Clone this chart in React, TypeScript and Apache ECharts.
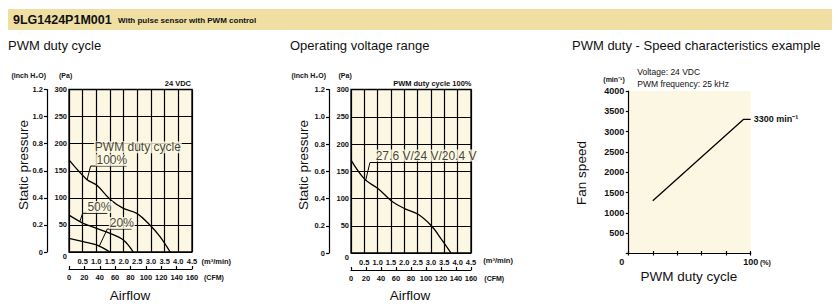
import React, { useEffect, useRef } from "react";
import * as echarts from "echarts";

// ---------- data ----------
// Airflow (m³/min) vs static pressure (Pa), PWM duty cycle curves
const pwm100 = [[0, 170], [0.65, 134], [1.01, 123.5], [1.53, 96], [1.99, 80.6], [2.48, 71.4], [2.96, 49.8], [3.33, 28.2], [3.7, 0]];
const pwm50 = [[0, 68], [0.52, 53], [1.01, 43.7], [1.5, 34.5], [1.99, 22], [2.35, 0]];
const pwm20 = [[0, 25], [0.52, 19], [1.01, 13], [1.5, 0]];
// Operating voltage range (27.6 V / 24 V / 20.4 V coincide)
const voltCurve = [[0, 170.5], [0.52, 135], [1.02, 118], [1.53, 95], [2.03, 81], [2.53, 70.5], [3.03, 49], [3.4, 24.5], [3.75, 0]];
// PWM duty (%) vs fan speed (min⁻¹)
const speedCurve = [[20, 1300], [94, 3300], [100, 3300]];

// leader lines (data coordinates)
const lead100 = [[0.66, 133], [0.79, 158.6], [2.11, 158.6]];
const lead50 = [[0.4, 57], [0.5, 71.4], [1.4, 71.4]];
const lead20 = [[1.11, 11], [1.4, 42.4], [2.29, 42.4]];
const leadVolt = [[0.55, 133], [0.71, 166], [4.5, 166]];

// annotation labels (left-middle anchor, data coordinates)
const labelsLeft = [
  { name: "PWM duty cycle", value: [0.89, 193.6] },
  { name: "100%", value: [0.95, 169.6] },
  { name: "50%", value: [0.62, 83] },
  { name: "20%", value: [1.44, 53.5] },
];
const labelsMid = [{ name: "27.6 V/24 V/20.4 V", value: [0.87, 178.7] }];

// axis ranges
const flowMax = 4.5;
const flowStep = 0.5;
const cfmMax = 160;
const cfmStep = 20;
const paMax = 300;
const paStep = 50;
const inchMax = 1.2;
const inchStep = 0.2;
const speedMax = 4000;
const speedStep = 500;
const dutyMax = 100;
const dutyStep = 20;

// ---------- styles ----------
const FONT = "'Liberation Sans', Arial, Helvetica, sans-serif";
const INK = "#111111";
const CREAM = "#fcf7e2";
const HEADER = "#efdfa3";
const LINE = { color: "#000", width: 1.2 };
const TICK = { fontSize: 7.5, fontFamily: FONT, fontWeight: "bold", color: INK };
const TICK_R = { fontSize: 9, fontFamily: FONT, fontWeight: "bold", color: INK };

function pressureCharts(gridIndex: number) {
  const x = [
    {
      gridIndex,
      type: "value",
      min: 0,
      max: flowMax,
      interval: flowStep,
      position: "bottom",
      axisLine: { show: false, onZero: false },
      axisTick: { show: false },
      splitLine: { show: true, lineStyle: LINE },
      axisLabel: {
        ...TICK,
        formatter: (v: number) => (v === 0 ? "" : v.toFixed(1)),
        margin: 5,
      },
    },
    {
      gridIndex,
      type: "value",
      min: 0,
      max: cfmMax,
      interval: cfmStep,
      position: "bottom",
      offset: 17,
      axisLine: { show: true, onZero: false, lineStyle: LINE },
      axisTick: { show: true, inside: true, length: 3, lineStyle: LINE },
      splitLine: { show: false },
      axisLabel: { ...TICK, margin: 4 },
    },
  ];
  const y = [
    {
      gridIndex,
      type: "value",
      min: 0,
      max: paMax,
      interval: paStep,
      position: "left",
      axisLine: { show: false, onZero: false },
      axisTick: { show: false },
      splitLine: { show: true, lineStyle: LINE },
      axisLabel: {
        ...TICK,
        margin: 2,
        showMinLabel: true,
        formatter: (v: number) => (v === 0 ? "{z|0}" : String(v)),
        rich: { z: { ...TICK, padding: [9, 0, 0, 0] } },
      },
    },
    {
      gridIndex,
      type: "value",
      min: 0,
      max: inchMax,
      interval: inchStep,
      position: "left",
      offset: 22,
      axisLine: { show: true, onZero: false, lineStyle: LINE },
      axisTick: { show: true, length: 3, lineStyle: LINE },
      splitLine: { show: false },
      axisLabel: {
        ...TICK,
        margin: 4,
        formatter: (v: number) => (v === 0 ? "0" : v.toFixed(1)),
      },
    },
  ];
  return { x, y };
}

function curve(data: number[][], xi: number, yi: number) {
  return {
    type: "line",
    xAxisIndex: xi,
    yAxisIndex: yi,
    data,
    smooth: 0.35,
    symbol: "none",
    silent: true,
    lineStyle: { color: "#000", width: 1.3 },
    z: 3,
  };
}

function leader(data: number[][], xi: number, yi: number) {
  return {
    type: "line",
    xAxisIndex: xi,
    yAxisIndex: yi,
    data,
    symbol: "none",
    silent: true,
    lineStyle: { color: "#000", width: 1 },
    z: 3,
  };
}

function labels(data: any[], xi: number, yi: number) {
  return {
    type: "scatter",
    xAxisIndex: xi,
    yAxisIndex: yi,
    data,
    symbolSize: 1,
    silent: true,
    itemStyle: { color: "rgba(0,0,0,0)" },
    z: 5,
    label: {
      show: true,
      position: "right",
      distance: 0,
      formatter: "{b}",
      fontSize: 12,
      lineHeight: 12,
      fontFamily: FONT,
      color: INK,
      backgroundColor: CREAM,
      padding: [0, 1, 0, 1],
    },
  };
}

function txt(text: string, x: number, y: number, size: number, opts: any = {}) {
  return {
    type: "text",
    x,
    y,
    rotation: opts.rotation || 0,
    silent: true,
    style: {
      text,
      fill: INK,
      fontSize: size,
      fontFamily: opts.family || FONT,
      fontWeight: opts.weight || "normal",
      align: opts.align || "left",
      verticalAlign: "middle",
    },
  };
}

export default function App() {
  const ref = useRef<HTMLDivElement>(null);

  useEffect(() => {
    document.body.style.margin = "0";
    if (!ref.current) return;
    const chart = echarts.init(ref.current, null, { renderer: "svg" });

    const left = pressureCharts(0);
    const mid = pressureCharts(1);

    const option: any = {
      animation: false,
      backgroundColor: "#ffffff",
      grid: [
        { left: 69, top: 89.5, width: 123, height: 162.5, show: true, backgroundColor: CREAM, borderColor: "#000", borderWidth: 1.3 },
        { left: 351, top: 89.5, width: 120, height: 163.5, show: true, backgroundColor: CREAM, borderColor: "#000", borderWidth: 1.3 },
        { left: 628.3, top: 91, width: 122.4, height: 162.5, show: true, backgroundColor: CREAM, borderWidth: 0 },
      ],
      xAxis: [
        ...left.x,
        ...mid.x,
        {
          gridIndex: 2,
          type: "value",
          min: 0,
          max: dutyMax,
          interval: dutyStep,
          position: "bottom",
          axisLine: { show: true, onZero: false, lineStyle: LINE },
          axisTick: { show: true, inside: true, length: 2.5, lineStyle: LINE },
          splitLine: { show: false },
          axisLabel: {
            ...TICK_R,
            margin: 4,
            formatter: (v: number) => (v === 0 ? "{z|0}" : v === dutyMax ? String(v) : ""),
            rich: { z: { ...TICK_R, padding: [0, 13, 0, 0] } },
          },
        },
        {
          gridIndex: 2,
          type: "value",
          min: 0,
          max: dutyMax,
          interval: dutyStep,
          position: "bottom",
          axisLine: { show: false, onZero: false },
          axisTick: { show: true, inside: false, length: 2, lineStyle: LINE },
          splitLine: { show: false },
          axisLabel: { show: false },
        },
      ],
      yAxis: [
        ...left.y,
        ...mid.y,
        {
          gridIndex: 2,
          type: "value",
          min: 0,
          max: speedMax,
          interval: speedStep,
          position: "left",
          axisLine: { show: true, onZero: false, lineStyle: LINE },
          axisTick: { show: true, length: 2.5, lineStyle: LINE },
          splitLine: { show: false },
          axisLabel: {
            ...TICK_R,
            margin: 4,
            formatter: (v: number) => (v === 0 ? "" : String(v)),
          },
        },
      ],
      series: [
        curve(pwm100, 0, 0),
        curve(pwm50, 0, 0),
        curve(pwm20, 0, 0),
        leader(lead100, 0, 0),
        leader(lead50, 0, 0),
        leader(lead20, 0, 0),
        labels(labelsLeft, 0, 0),
        curve(voltCurve, 2, 2),
        leader(leadVolt, 2, 2),
        labels(labelsMid, 2, 2),
        {
          type: "line",
          xAxisIndex: 4,
          yAxisIndex: 4,
          data: speedCurve,
          symbol: "none",
          silent: true,
          lineStyle: { color: "#000", width: 1.3 },
          endLabel: {
            show: true,
            formatter: "3300 min⁻¹",
            distance: 3,
            ...TICK_R,
          },
        },
      ],
      graphic: [
        { type: "rect", silent: true, shape: { x: 8, y: 9, width: 824, height: 21 }, style: { fill: HEADER } },
        txt("9LG1424P1M001", 13, 19.5, 12.5, { weight: "bold" }),
        txt("With pulse sensor with PWM control", 118, 20, 8, { weight: "bold" }),

        txt("PWM duty cycle", 8, 45, 13),
        txt("Operating voltage range", 290, 45, 13),
        txt("PWM duty - Speed characteristics example", 572, 45, 13),

        // left chart units and axis titles
        txt("(inch H₂O)", 11.5, 75.5, 7, { weight: "bold" }),
        txt("(Pa)", 59, 75.5, 7, { weight: "bold" }),
        txt("24 VDC", 191, 83.5, 7.5, { weight: "bold", align: "right" }),
        txt("(m³/min)", 201.5, 261, 7.5, { weight: "bold" }),
        txt("(CFM)", 204, 277.7, 7, { weight: "bold" }),
        txt("Static pressure", 23.5, 165, 13.5, { rotation: Math.PI / 2, align: "center" }),
        txt("Airflow", 130, 295, 13.5, { align: "center" }),

        // middle chart
        txt("(inch H₂O)", 291.5, 75.7, 7, { weight: "bold" }),
        txt("(Pa)", 338.5, 75.7, 7, { weight: "bold" }),
        txt("PWM duty cycle 100%", 471.5, 83.3, 7.5, { weight: "bold", align: "right" }),
        txt("(m³/min)", 483.3, 260.7, 7.5, { weight: "bold" }),
        txt("(CFM)", 484.3, 278.3, 7, { weight: "bold" }),
        txt("Static pressure", 303, 165, 13.5, { rotation: Math.PI / 2, align: "center" }),
        txt("Airflow", 410, 295, 13.5, { align: "center" }),

        // right chart
        txt("(min⁻¹)", 603.3, 79, 7, { weight: "bold" }),
        txt("Voltage: 24 VDC", 637.3, 71.7, 8.5),
        txt("PWM frequency: 25 kHz", 637.3, 84, 8.5),
        txt("(%)", 760, 262.7, 7, { weight: "bold" }),
        txt("Fan speed", 581, 173, 13.5, { rotation: Math.PI / 2, align: "center" }),
        txt("PWM duty cycle", 689, 276.7, 13.5, { align: "center" }),
      ],
    };

    chart.setOption(option);
    return () => chart.dispose();
  }, []);

  return <div ref={ref} style={{ position: "absolute", left: 0, top: 0, width: 840, height: 305 }} />;
}
